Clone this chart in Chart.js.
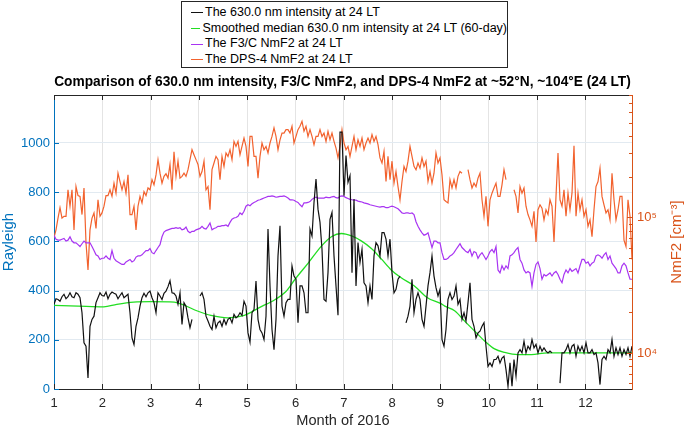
<!DOCTYPE html>
<html>
<head>
<meta charset="utf-8">
<title>630.0 nm intensity and NmF2, 2016</title>
<script src="https://cdn.jsdelivr.net/npm/chart.js@4.4.1/dist/chart.umd.min.js"></script>
<style>
  html, body { margin: 0; padding: 0; background: #fff; }
  #wrap { position: relative; width: 685px; height: 430px; font-family: "Liberation Sans", Arial, Helvetica, sans-serif; }
  #chart { position: absolute; left: 0; top: 0; }
  #legend {
    position: absolute; left: 181px; top: 1px; width: 327px; height: 67px;
    box-sizing: border-box; border: 1px solid #262626; background: #fff;
    padding-top: 3px; font-size: 12.5px; color: #000;
  }
  #legend .row { height: 15.7px; line-height: 15.7px; white-space: nowrap; display: flex; align-items: center; }
  #legend .swatch { display: inline-block; width: 12px; height: 0; border-top: 1.3px solid; margin: 0 2px 0 9px; }
</style>
</head>
<body>
<div id="wrap">
  <canvas id="chart" width="685" height="430"></canvas>
  <div id="legend"></div>
</div>
<script>
// ── Data ───────────────────────────────────────────────────────────────── //
// daily-ish samples from Jan 1 (month 1.0) to Dec 31 (month ~12.97)
const SAMPLE_START = 1;
const SAMPLE_END = 12.965;

// 630.0 nm intensity at 24 LT [Rayleigh]; null = no observation
const intensity630 = [
  344, 367, 364, 357, 375, 385, 367, 375, 391, 375, 371, 391, 385, 371, 310, 188, 174, 45, 255, 283,
  296, 351, 371, 391, 380, 378, 394, 367, 385, 394, 389, 385, 367, 380, 391, 371, 378, 385, 310, 208,
  181, 255, 289, 337, 371, 389, 375, 391, 398, 371, 351, 310, 391, 378, 364, 389, 398, 416, 440, 391,
  389, 378, 344, 391, 262, 351, 337, 289, 249, 283, null, null, null, 378, 391, 364, 296, 276, 255, 242,
  296, 249, 269, 276, 255, 283, 262, 283, 289, 269, 303, 289, 296, 310, 299, 357, 337, 228,
  190, 310, 323, 439, 283, 242, 228, 201, 296, 650, 419, 242, 160, 283, 541, 663, 337, 296, 351, 364,
  364, 500, 459, 446, 269, 419, 419, 391, 310, 310, 650, 622, 758, 853, 731, 677, 568, 364, 357, 473,
  690, 718, 541, 419, 300, 1044, 1044, 786, 949, 840, 867, 473, 772, 419, 595, 514, 568, 432, 419, 351,
  419, 364, 541, 595, 582, 541, 636, 636, 609, 541, 609, 473, 391, 405, 446, 459, null, null, 269, 296,
  337, 446, 310, 364, 391, 364, 283, 255, 337, 419, 473, 541, 459, 412, 378, 405,
  201, 174, 242, 364, 391, 364, 378, 419, 344, 364, 283, 310, 276, 351, 432, 283, 255, 208, 228, 235,
  255, 269, 174, 92, 106, 92, 120, 120, 133, 106, 126, 133, 79, 11, 106, 11, 120, 52, 147, 160,
  147, 194, 147, 174, 160, 201, 167, 181, 147, 174, 154, 167, 154, 147, 154, 147, null, null, null, 24,
  147, 147, 160, 181, 147, 174, 181, 133, 174, 154, 174, 147, 188, 147, 147, 160, 140, 147, 106, 18,
  120, 133, 120, 160, 147, 201, 133, 167, 140, 167, 133, 160, 140, 167, 133, 174
];

// 60-day smoothed median of the 630.0 nm intensity [Rayleigh]
const smoothMonths = [
  1.0, 1.5, 2.03, 2.3, 2.65, 3.0, 3.49, 3.7, 3.97, 4.25, 4.6, 4.94, 5.24, 5.58, 5.79, 5.99,
  6.27, 6.54, 6.75, 6.95, 7.16, 7.36, 7.57, 7.77, 7.98, 8.18, 8.46, 8.73, 9.0, 9.09, 9.3,
  9.5, 9.71, 9.92, 10.12, 10.33, 10.6, 10.88, 11.22, 11.91, 12.965
];
const smoothMedian630 = [
  340, 337, 334, 344, 353, 355, 353, 340, 317, 299, 289, 299, 330, 364, 394, 446,
  514, 582, 620, 632, 622, 602, 571, 530, 484, 453, 419, 371, 348, 337, 317,
  276, 235, 194, 163, 149, 140, 140, 147, 147, 147
];

// F3/C NmF2 at 24 LT [10^3 cm^-3]
const f3cNmF2 = [
  74, 69, 68, 68, 69, 70, 67, 68, 72, 67, 65, 65, 63, 61, 64, 67, 65, 65, 65, 61,
  57, 53, 52, 49, 50, 50, 52, 50, 49, 57, 50, 48, 47, 46, 45, 45, 47, 48, 49, 47,
  48, 51, 52, 52, 53, 55, 57, 57, 59, 55, 54, 57, 60, 63, 72, 78, 80, 81, 82, 83,
  83, 84, 83, 84, 81, 82, 85, 79, 77, 79, 79, 81, 82, 83, 86, 83, 82, 86, 91, 81,
  83, 84, 86, 86, 87, 87, 88, 86, 92, 97, 99, 100, 102, 108, 105, 111, 121, 124,
  122, 126, 129, 131, 134, 135, 137, 139, 141, 143, 143, 144, 143, 141, 142, 143, 143, 144, 142, 139,
  135, 135, 134, 131, 129, 124, 120, 128, 128, 129, 131, 136, 139, 141, 139, 139, 139, 139, 141, 140,
  140, 142, 143, 140, 139, 143, 144, 143, 140, 138, 136, 135, 134, 134, 132, 131, 130, 128, 127, 126,
  124, 123, 122, 121, 120, 119, 120, 120, 118, 118, 120, 121, 120, 118, 116, 112, 108, 107, 108, 108,
  107, 108, 105, 93, 86, 81, 77, 74, 75, 77, 68, 60, 67, 67, 65, 65,
  55, 49, 49, 50, 52, 53, 55, 58, 61, 64, 60, 58, 56, 55, 58, 52, 56, 55, 50, 53,
  55, 52, 49, 52, 56, 58, 55, 61, 41, 39, 44, 41, 44, 42, 52, 53, 55, 58, 60, 49,
  46, 41, 39, 40, 39, 31, 39, 45, 47, 42, 35, 38, 37, 38, 39, 37, 39, 40, 38, 35,
  33, 38, 41, 39, 42, 40, 41, 42, 39, 44, 49, 49, 46, 47, 44, 46, 47, 52, 53, 52,
  50, 53, 55, 49, 52, 46, 44, 42, 39, 39, 44, 46, 44, 39, 35, 35
];

// DPS-4 NmF2 at 24 LT [10^3 cm^-3]; null = no sounding
const dps4NmF2 = [
  71, 81, 99, 118, 99, 102, 102, 160, 121, 160, 81, 169, 145, 143, 105, 165, 65, 41, 81, 99,
  108, 83, 135, 102, 108, 121, 145, 145, 160, 143, 179, 151, 212, 184, 160, 184, 151, 206, 105, 105,
  121, 81, 121, 143, 128, 155, 145, 165, 160, 190, 174, 206, 267, 212, 179, 201, 210, 195, 246, 160,
  305, 201, 260, 195, 201, 212, 201, 225, 267, 316, 290, 267, 246, 201, 218, 260, 160, 169, 114, 225,
  252, 282, 267, 190, 282, 238, 299, 282, 316, 267, 364, 334, 364, 290, 334, 385, 334, 238,
  396, 396, 282, 282, 195, 282, 354, 316, 334, 299, 354, 396, 457, 396, 316, 374, 419, 419, 444, 444,
  419, 470, 354, 396, 444, 470, 511, 432, 470, 396, 444, 396, 344, 396, 396, 444, 396, 419, 364, 432,
  374, 419, 364, 325, 275, 334, 444, 354, 316, 334, 282, 334, 396, 316, 374, 334, 385, 316, 354, 385,
  354, 408, 364, 396, 344, 275, 252, 307, 184, 282, 190, 260, 179, 218, 169, 135, 184, 238, 218, 260,
  334, 282, 238, 225, 252, 231, 275, 238, 260, 184, 218, 179, 212, 299, 252, 275,
  206, 135, 131, 128, 190, 165, 190, 165, 201, 218, 212, null, null, 225, 190, 165, 179, 169, 195, 212,
  135, 102, 143, 86, 135, 151, 165, 179, 143, 143, 174, 225, 190, null, null, null, 160, 143, 108, 169,
  151, 165, 121, 105, 96, 86, 111, 66, 114, 124, 117, 96, 114, 105, 135, 121, 66, 143, 299, 135,
  121, 160, 102, 151, 114, 151, 338, 102, 151, 114, 135, 102, 114, 86, 96, 72, 114, 169, 184, 231,
  143, 124, 108, 114, 96, 212, 135, 96, 114, 143, 143, 68, 61, 135, 102, 49
];

// axis ticks
const monthTicks = [1, 2, 3, 4, 5, 6, 7, 8, 9, 10, 11, 12];
const rayleighTicks = [0, 200, 400, 600, 800, 1000];
const nmf2Ticks = [6e3, 7e3, 8e3, 9e3, 1e4, 2e4, 3e4, 4e4, 5e4, 6e4, 7e4, 8e4, 9e4,
                   1e5, 2e5, 3e5, 4e5, 5e5, 6e5, 7e5, 8e5];
const nmf2Labels = { 10000: '10\u2074', 100000: '10\u2075' };

const seriesLabels = [
  'The 630.0 nm intensity at 24 LT',
  'Smoothed median 630.0 nm intensity at 24 LT (60-day)',
  'The F3/C NmF2 at 24 LT',
  'The DPS-4 NmF2 at 24 LT'
];
const seriesColors = ['#111111', '#22DD22', '#A834F2', '#F2622E'];

const TITLE = 'Comparison of 630.0 nm intensity, F3/C NmF2, and DPS-4 NmF2 at ~52\u00B0N, ~104\u00B0E (24 LT)';
const BLUE = '#0072BD';
const ORANGE_AXIS = '#D95319';
const DARK = '#262626';
const FONT = '"Liberation Sans", Arial, Helvetica, sans-serif';

// ── Helpers ─────────────────────────────────────────────────────────────── //
function sampled(values, scale) {
  var n = values.length;
  var step = (SAMPLE_END - SAMPLE_START) / (n - 1);
  return values.map(function (v, i) {
    return { x: SAMPLE_START + i * step, y: v === null ? null : v * scale };
  });
}

// inward tick marks and the top edge of the axes box (MATLAB look)
const axesBoxPlugin = {
  id: 'axesBox',
  afterDatasetsDraw: function (chart) {
    var ctx = chart.ctx, a = chart.chartArea, s = chart.scales;
    ctx.save();
    ctx.lineWidth = 1;
    ctx.strokeStyle = DARK;
    ctx.beginPath();
    ctx.moveTo(a.left, a.top + 0.5); ctx.lineTo(a.right, a.top + 0.5);
    s.x.ticks.forEach(function (t) {
      var px = Math.round(s.x.getPixelForValue(t.value)) + 0.5;
      ctx.moveTo(px, a.bottom); ctx.lineTo(px, a.bottom - 5);
      ctx.moveTo(px, a.top); ctx.lineTo(px, a.top + 5);
    });
    ctx.stroke();

    ctx.strokeStyle = BLUE;
    ctx.beginPath();
    s.y.ticks.forEach(function (t) {
      var py = Math.round(s.y.getPixelForValue(t.value)) + 0.5;
      ctx.moveTo(a.left, py); ctx.lineTo(a.left + 5, py);
    });
    ctx.stroke();

    ctx.strokeStyle = ORANGE_AXIS;
    ctx.beginPath();
    s.y1.ticks.forEach(function (t) {
      var py = Math.round(s.y1.getPixelForValue(t.value)) + 0.5;
      var len = nmf2Labels[t.value] ? 5 : 3;
      ctx.moveTo(a.right, py); ctx.lineTo(a.right - len, py);
    });
    ctx.stroke();

    // right axis title reads bottom-to-top like the left one
    ctx.translate(s.y1.right - 8, (a.top + a.bottom) / 2);
    ctx.rotate(-Math.PI / 2);
    ctx.font = '15px ' + FONT;
    ctx.fillStyle = ORANGE_AXIS;
    ctx.textAlign = 'center';
    ctx.textBaseline = 'middle';
    ctx.fillText('NmF2 [cm\u207B\u00B3]', 0, 0);
    ctx.restore();
  }
};

// ── Legend (boxed, above the title) ─────────────────────────────────────── //
var legendEl = document.getElementById('legend');
legendEl.innerHTML = seriesLabels.map(function (label, i) {
  return '<div class="row"><span class="swatch" style="border-color:' + seriesColors[i] + '"></span>' +
    label + '</div>';
}).join('');

// ── Chart ───────────────────────────────────────────────────────────────── //
Chart.defaults.font.family = FONT;
Chart.defaults.font.size = 13;

new Chart(document.getElementById('chart').getContext('2d'), {
  type: 'line',
  data: {
    datasets: [
      { label: seriesLabels[0], data: sampled(intensity630, 1), yAxisID: 'y',
        borderColor: seriesColors[0], borderWidth: 1.2 },
      { label: seriesLabels[1], data: smoothMonths.map(function (m, i) { return { x: m, y: smoothMedian630[i] }; }),
        yAxisID: 'y', borderColor: seriesColors[1], borderWidth: 1.3, cubicInterpolationMode: 'monotone' },
      { label: seriesLabels[2], data: sampled(f3cNmF2, 1000), yAxisID: 'y1',
        borderColor: seriesColors[2], borderWidth: 1.2 },
      { label: seriesLabels[3], data: sampled(dps4NmF2, 1000), yAxisID: 'y1',
        borderColor: seriesColors[3], borderWidth: 1.2 }
    ]
  },
  options: {
    responsive: false,
    animation: false,
    events: [],
    spanGaps: false,
    elements: { point: { radius: 0 }, line: { tension: 0 } },
    layout: { padding: 0 },
    plugins: {
      legend: { display: false },
      tooltip: { enabled: false },
      title: {
        display: true, text: TITLE, color: '#000',
        font: { size: 13.75, weight: 'bold' },
        padding: { top: 73.5, bottom: 5 }
      }
    },
    scales: {
      x: {
        type: 'linear', min: SAMPLE_START, max: SAMPLE_END,
        afterBuildTicks: function (s) { s.ticks = monthTicks.map(function (v) { return { value: v }; }); },
        afterFit: function (s) { s.height = 41; },
        ticks: { color: DARK, padding: 6.5, autoSkip: false, maxRotation: 0,
                 callback: function (v) { return String(v); } },
        grid: { color: '#E4E4E4', drawTicks: false },
        border: { color: DARK, width: 1 },
        title: { display: true, text: 'Month of 2016', color: DARK, font: { size: 14.6 }, padding: { top: 0, bottom: 0 } }
      },
      y: {
        position: 'left', min: 0, max: 1195,
        afterBuildTicks: function (s) { s.ticks = rayleighTicks.map(function (v) { return { value: v }; }); },
        afterFit: function (s) { s.width = 54; },
        ticks: { color: BLUE, padding: 4, autoSkip: false,
                 callback: function (v) { return String(v); } },
        grid: { color: '#E2EAF1', drawTicks: false },
        border: { color: BLUE, width: 1 },
        title: { display: true, text: 'Rayleigh', color: BLUE, font: { size: 15 }, padding: { top: 0, bottom: 0 } }
      },
      y1: {
        type: 'logarithmic', position: 'right', min: 5430, max: 8.0e5,
        afterBuildTicks: function (s) { s.ticks = nmf2Ticks.map(function (v) { return { value: v }; }); },
        afterFit: function (s) { s.width = 53; },
        ticks: {
          color: ORANGE_AXIS, padding: 5, autoSkip: false,
          callback: function (v) { return nmf2Labels[v] || ''; }
        },
        grid: { drawOnChartArea: false, drawTicks: false },
        border: { color: ORANGE_AXIS, width: 1 }
      }
    }
  },
  plugins: [axesBoxPlugin]
});
</script>
</body>
</html>
